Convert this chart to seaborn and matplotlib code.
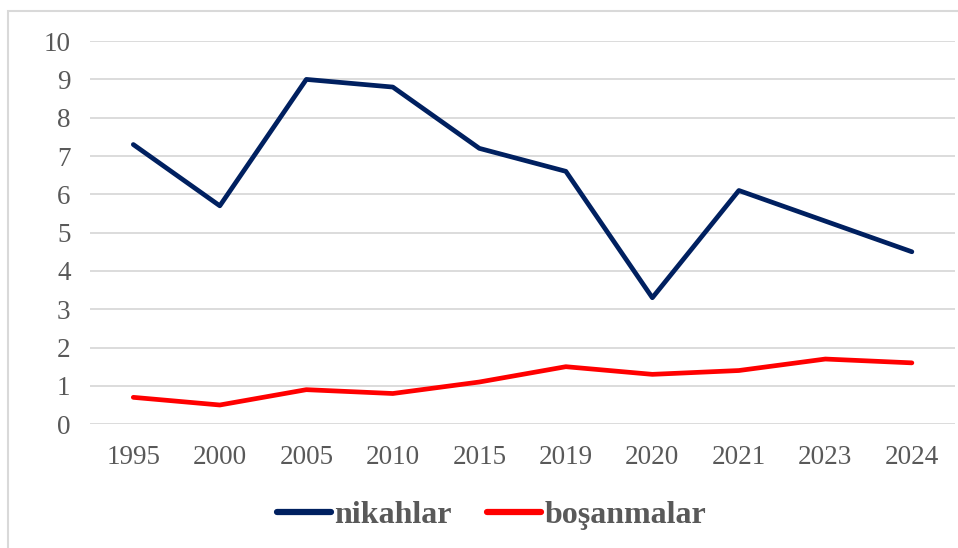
import pandas as pd
import matplotlib.pyplot as plt
import seaborn as sns
from matplotlib.patches import Rectangle
from matplotlib.lines import Line2D

years = ["1995", "2000", "2005", "2010", "2015", "2019", "2020", "2021", "2023", "2024"]
nikahlar = [7.3, 5.7, 9.0, 8.8, 7.2, 6.6, 3.3, 6.1, 5.3, 4.5]
bosanmalar = [0.7, 0.5, 0.9, 0.8, 1.1, 1.5, 1.3, 1.4, 1.7, 1.6]
series_names = ["nikahlar", "boşanmalar"]
colors = ["#002060", "#FF0000"]

df = pd.DataFrame({
    "yil": years * 2,
    "deger": nikahlar + bosanmalar,
    "seri": [series_names[0]] * len(years) + [series_names[1]] * len(years),
})

sns.set_style("white")
plt.rcParams["font.family"] = ["Liberation Serif", "DejaVu Serif"]
plt.rcParams["lines.solid_capstyle"] = "round"
plt.rcParams["lines.solid_joinstyle"] = "round"

fig = plt.figure(figsize=(9.58, 5.48), dpi=100)
ax = fig.add_axes([0.094, 0.226, 0.903, 0.699])

palette = dict(zip(series_names, colors))
sns.lineplot(data=df, x="yil", y="deger", hue="seri", palette=palette,
             linewidth=3.4, sort=False, legend=False, ax=ax)

ax.set_xlim(-0.5, len(years) - 0.5)
ax.set_ylim(0, 10)
ax.set_yticks(range(0, 11))
ax.grid(axis="y", color="#D9D9D9", linewidth=1.3)
ax.grid(axis="x", visible=False)
ax.set_axisbelow(True)
for s in ax.spines.values():
    s.set_visible(False)
ax.set_xlabel("")
ax.set_ylabel("")
ax.tick_params(axis="both", length=0, labelsize=19.5, labelcolor="#595959")
ax.tick_params(axis="y", pad=14)
ax.tick_params(axis="x", pad=15)

# chart frame
fig.patches.append(Rectangle((8 / 958, -0.1), 1.2, 1 - 11 / 548 + 0.1,
                             transform=fig.transFigure, fill=False,
                             edgecolor="#D9D9D9", linewidth=1.5))

handles = [Line2D([0], [0], color=c, linewidth=4.5) for c in colors]
leg = fig.legend(handles, series_names, loc="center", bbox_to_anchor=(0.513, 0.06),
                 ncol=2, frameon=False, handlelength=1.7, handletextpad=0.1,
                 columnspacing=1.1, prop={"size": 23, "weight": "bold"})
for t in leg.get_texts():
    t.set_color("#595959")

fig.savefig("out.png", dpi=100)
